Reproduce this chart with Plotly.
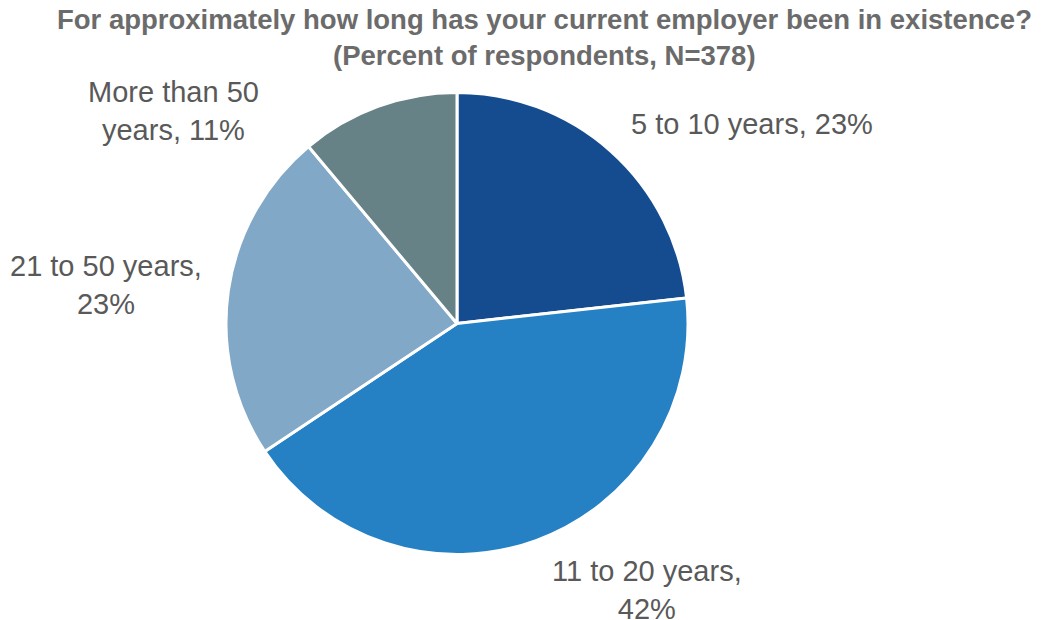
import plotly.graph_objects as go

categories = ["5 to 10 years", "11 to 20 years", "21 to 50 years", "More than 50 years"]
values = [23, 42, 23, 11]
colors = ["#154C8F", "#2581C4", "#81A8C7", "#668287"]
title_lines = ["For approximately how long has your current employer been in existence?",
               "(Percent of respondents, N=378)"]

# display text of each slice label (line breaks as in the reference)
label_texts = [
    f"{categories[0]}, {values[0]}%",
    f"{categories[1]},<br>{values[1]}%",
    f"{categories[2]},<br>{values[2]}%",
    "More than 50<br>years, " + f"{values[3]}%",
]
# label centres in pixels (x, y from top)
label_pos = [(752, 124), (647, 590), (106, 285), (173, 111)]

W, H = 1043, 620

fig = go.Figure(go.Pie(
    labels=categories,
    values=values,
    sort=False,
    direction="clockwise",
    rotation=0,
    marker=dict(colors=colors, line=dict(color="white", width=3)),
    textinfo="none",
    hoverinfo="label+percent",
    showlegend=False,
    domain=dict(x=[226 / W, 688 / W], y=[1 - 555 / H, 1 - 92 / H]),
))

annotations = []
for txt, (px, py) in zip(label_texts, label_pos):
    annotations.append(dict(
        text=txt, x=px / W, y=1 - py / H, xref="paper", yref="paper",
        xanchor="center", yanchor="middle", showarrow=False, align="center",
        font=dict(family="Liberation Sans, Arial, sans-serif", size=29, color="#595959"),
    ))

for txt, py in zip(title_lines, [20, 55]):
    annotations.append(dict(
        text=f"<b>{txt}</b>", x=544 / W, y=1 - py / H, xref="paper", yref="paper",
        xanchor="center", yanchor="middle", showarrow=False,
        font=dict(family="Liberation Sans, Arial, sans-serif", size=27.5, color="#6B6B6B"),
    ))

fig.update_layout(
    width=W, height=H,
    margin=dict(l=0, r=0, t=0, b=0),
    paper_bgcolor="white",
    plot_bgcolor="white",
    annotations=annotations,
)

fig.write_html(
    "out.html",
    config={"displayModeBar": False},
    post_script="document.body.style.margin='0';document.body.style.overflow='hidden';",
)
